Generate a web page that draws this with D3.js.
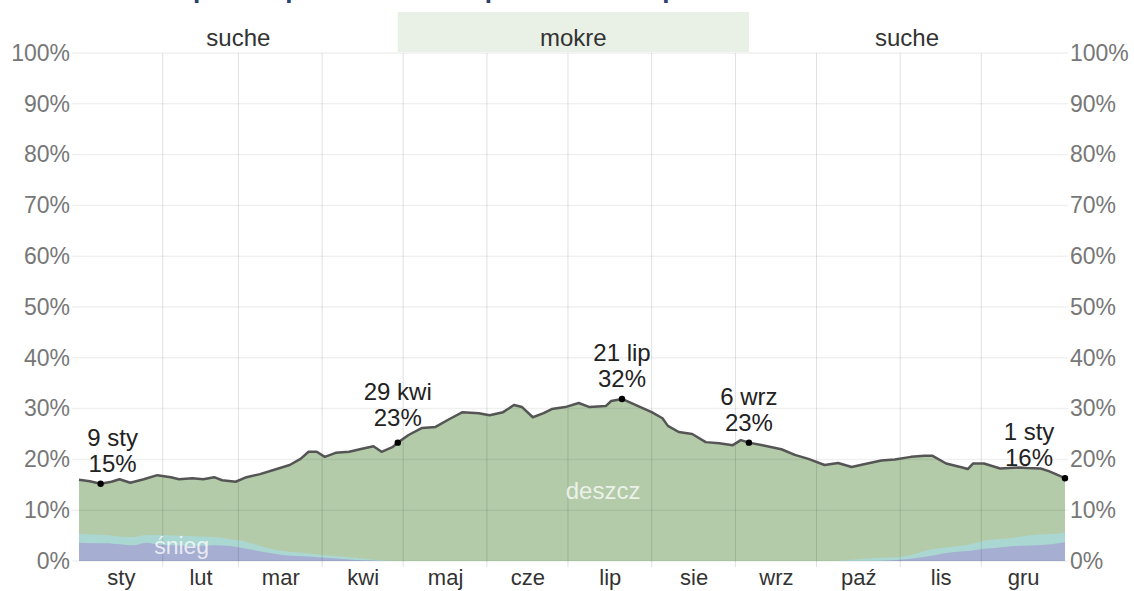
<!DOCTYPE html>
<html><head><meta charset="utf-8">
<script src="https://cdn.jsdelivr.net/npm/d3@7"></script>
<style>html,body{margin:0;padding:0;background:#fff;}svg{display:block;font-family:"Liberation Sans",Arial,sans-serif;}</style>
</head><body>
<svg id="c" width="1134" height="591"></svg>
<script>
const titleText = "Dzienne prawdopodobieństwo opadów w Zakopanem";
const monthNames = ["sty","lut","mar","kwi","maj","cze","lip","sie","wrz","paź","lis","gru"];
const monthStarts = [0,31,59,90,120,151,181,212,243,273,304,334,365];
const seasonNames = ["suche","mokre","suche"];
const seasonBounds = [0,118,248,365];
const wetSeason = [false,true,false];
const yTicks = [0,10,20,30,40,50,60,70,80,90,100];

const totalDays = [0,4,8,12,15,19,24,29,34,37,42,46,50,53,58,62,67,72,78,82,85,88,91,95,100,104,109,112,116,118,122,127,132,137,142,148,152,157,161,164,168,172,175,180,185,189,195,197,201,207,212,216,218,222,227,232,237,242,245,248,253,260,265,270,276,281,286,291,297,302,308,313,316,321,327,329,331,335,341,348,351,356,359,365];
const totalPct = [16.0,15.7,15.2,15.6,16.1,15.4,16.1,16.9,16.5,16.1,16.3,16.1,16.5,15.9,15.6,16.5,17.1,17.9,18.9,20.1,21.5,21.5,20.5,21.3,21.5,22.0,22.6,21.5,22.4,23.3,24.8,26.2,26.4,27.9,29.3,29.1,28.7,29.3,30.7,30.3,28.3,29.1,29.9,30.3,31.1,30.3,30.5,31.5,31.9,30.5,29.3,28.1,26.6,25.4,25.0,23.4,23.2,22.8,23.8,23.3,22.8,22.0,20.9,20.1,18.9,19.3,18.5,19.1,19.8,20.0,20.5,20.7,20.7,19.2,18.4,18.1,19.2,19.2,18.2,18.4,18.3,18.2,17.7,16.3];

const gridDays = [0,5,10,15,20,25,30,35,40,45,50,55,60,65,70,75,80,85,90,95,100,105,110,115,120,280,285,290,295,300,305,310,315,320,325,330,335,340,345,350,355,360,365];
const snowPct =      [3.6,3.5,3.5,3.3,3.1,3.6,3.2,3.1,3.0,3.0,3.1,3.0,2.6,2.1,1.6,1.2,1.0,0.9,0.7,0.5,0.3,0.15,0.05,0,0, 0,0,0,0,0.1,0.3,0.6,1.0,1.5,1.8,2.0,2.4,2.6,2.9,3.0,3.1,3.3,3.7];
const snowMixedPct = [5.3,5.2,5.1,4.8,4.7,5.1,5.1,5.0,4.9,4.8,4.7,4.4,4.0,3.3,2.5,2.0,1.7,1.5,1.2,1.0,0.7,0.5,0.2,0.05,0, 0,0.2,0.4,0.6,0.7,0.9,1.5,2.2,2.6,2.9,3.3,4.0,4.3,4.5,4.9,5.2,5.3,5.5];

const annoDays = [8,118,201,248,365];
const annoDates = ["9 sty","29 kwi","21 lip","6 wrz","1 sty"];
const annoLabels = ["15%","23%","32%","23%","16%"];
const annoShift = [12,0,0,0,-36];
const annoLift = [0,5,0,0,0];

const svg = d3.select("#c");
const x = d3.scaleLinear().domain([0,365]).range([79,1065]);
const y = d3.scaleLinear().domain([0,100]).range([561,53]);
const FONT = "Liberation Sans, Arial, sans-serif";

// title (cut off at top, as in the reference)
svg.append("text").attr("x",86).attr("y",-2.5).attr("font-size",26).attr("font-weight","bold")
  .attr("fill","#2b416e").text(titleText);

// season band
const seasons = seasonNames.map((n,i)=>({name:n,s:seasonBounds[i],e:seasonBounds[i+1],wet:wetSeason[i]}));
svg.selectAll("rect.season").data(seasons.filter(d=>d.wet)).join("rect")
  .attr("x",d=>x(d.s)).attr("width",d=>x(d.e)-x(d.s)).attr("y",12).attr("height",40).attr("fill","#e9f0e6");
svg.selectAll("text.season").data(seasons).join("text")
  .attr("x",d=>(x(d.s)+x(d.e))/2).attr("y",46).attr("text-anchor","middle")
  .attr("font-size",24).attr("fill","#333").text(d=>d.name);

// areas
const rows = totalDays.map((d,i)=>({d,v:totalPct[i]}));
const srows = gridDays.map((d,i)=>({d,s:snowPct[i],m:snowMixedPct[i]}));
svg.append("path").datum(rows).attr("fill","#b3cba9")
  .attr("d",d3.area().x(d=>x(d.d)).y0(y(0)).y1(d=>y(d.v)));
const sm = [srows.slice(0,25), srows.slice(25)];
sm.forEach(seg=>{
  svg.append("path").datum(seg).attr("fill","#abd7d3")
    .attr("d",d3.area().curve(d3.curveMonotoneX).x(d=>x(d.d)).y0(y(0)).y1(d=>y(d.m)));
  svg.append("path").datum(seg).attr("fill","#a6aed2")
    .attr("d",d3.area().curve(d3.curveMonotoneX).x(d=>x(d.d)).y0(y(0)).y1(d=>y(d.s)));
});

// gridlines
svg.selectAll("line.h").data(yTicks).join("line")
  .attr("x1",72).attr("x2",1068).attr("y1",d=>y(d)).attr("y2",d=>y(d))
  .attr("stroke","rgba(0,0,0,0.06)").attr("stroke-width",1.5);
svg.selectAll("line.v").data(monthStarts.slice(1,12)).join("line")
  .attr("x1",d=>x(d)).attr("x2",d=>x(d)).attr("y1",y(100)).attr("y2",567)
  .attr("stroke","rgba(0,0,0,0.12)").attr("stroke-width",1);

// labels in areas
svg.append("text").attr("x",x(194)).attr("y",y(12.3)).attr("text-anchor","middle").attr("font-size",24)
  .attr("fill","rgba(255,255,255,0.75)").text("deszcz");
svg.append("text").attr("x",x(38)).attr("y",y(1.4)).attr("text-anchor","middle").attr("font-size",23)
  .attr("fill","rgba(255,255,255,0.75)").text("śnieg");

// total line
svg.append("path").datum(rows).attr("fill","none").attr("stroke","#555").attr("stroke-width",2.5)
  .attr("stroke-linejoin","round")
  .attr("d",d3.line().x(d=>x(d.d)).y(d=>y(d.v)));

// axes
const yl = svg.append("g").attr("transform","translate(72,0)")
  .call(d3.axisLeft(y).tickValues(yTicks).tickSize(0).tickPadding(2).tickFormat(d=>d+"%"));
const yr = svg.append("g").attr("transform","translate(1068,0)")
  .call(d3.axisRight(y).tickValues(yTicks).tickSize(0).tickPadding(2).tickFormat(d=>d+"%"));
[yl,yr].forEach(g=>{g.select(".domain").remove();
  g.selectAll("text").attr("font-size",23).attr("fill","#777").attr("font-family",FONT);});
const mids = monthStarts.slice(0,12).map((s,i)=>(s+monthStarts[i+1])/2);
const xb = svg.append("g").attr("transform","translate(0,566)")
  .call(d3.axisBottom(x).tickValues(mids).tickSize(0).tickPadding(3).tickFormat((d,i)=>monthNames[i]));
xb.select(".domain").remove();
xb.selectAll("text").attr("font-size",22).attr("fill","#333").attr("font-family",FONT);

// annotations
const annos = annoDays.map((d,i)=>({d,v:totalPct[totalDays.indexOf(d)],date:annoDates[i],lab:annoLabels[i],dx:annoShift[i],lift:annoLift[i]}));
const ag = svg.selectAll("g.anno").data(annos).join("g");
ag.append("circle").attr("cx",d=>x(d.d)).attr("cy",d=>y(d.v)).attr("r",3.2).attr("fill","#000");
ag.append("text").attr("x",d=>x(d.d)+d.dx).attr("y",d=>y(d.v)-12-d.lift).attr("text-anchor","middle")
  .attr("font-size",24).attr("fill","#222").text(d=>d.lab);
ag.append("text").attr("x",d=>x(d.d)+d.dx).attr("y",d=>y(d.v)-38-d.lift).attr("text-anchor","middle")
  .attr("font-size",24).attr("fill","#222").text(d=>d.date);
</script>
</body></html>
